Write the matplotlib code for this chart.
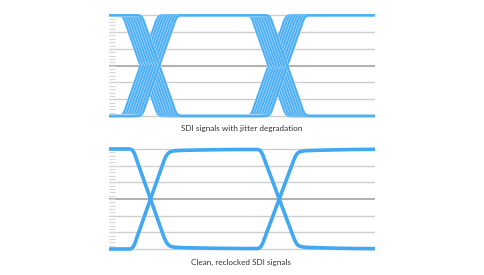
import matplotlib
matplotlib.use("Agg")
import matplotlib.pyplot as plt
import matplotlib.patheffects as pe
from matplotlib.ticker import MultipleLocator
import numpy as np

# ---- data ----
# Clean, reclocked signals (time in % of window, level in grid units 0..6)
clean_x = [0, 7.6, 8.1, 8.6, 9.1, 9.7, 10.4, 15.6, 20.8, 21.5, 22.1, 22.8, 23.6, 25, 28, 34, 42, 50,
           55.7, 56.2, 56.7, 57.2, 57.8, 58.5, 64.0, 69.5, 70.2, 70.8, 71.5, 72.3, 74, 78, 85, 92, 100]
clean_a_y = [6.0, 6.0, 5.99, 5.95, 5.86, 5.68, 5.35, 3.0, 0.65, 0.42, 0.28, 0.19, 0.14, 0.1, 0.08, 0.06, 0.04, 0.03,
             0.03, 0.04, 0.08, 0.17, 0.35, 0.65, 3.0, 5.35, 5.6, 5.74, 5.82, 5.86, 5.9, 5.92, 5.95, 5.97, 5.98]
clean_b_y = [0.0, 0.0, 0.01, 0.05, 0.14, 0.32, 0.65, 3.0, 5.35, 5.58, 5.72, 5.81, 5.86, 5.9, 5.92, 5.94, 5.96, 5.97,
             5.97, 5.96, 5.92, 5.83, 5.65, 5.35, 3.0, 0.65, 0.4, 0.26, 0.18, 0.14, 0.1, 0.08, 0.05, 0.03, 0.02]

# Jittered signals: base trace and per-trace time offsets
jit_x = [-20, 7.4, 7.9, 8.4, 8.9, 9.5, 10.2, 15.4, 20.6, 21.3, 21.9, 22.5, 23.3,
         55.5, 56.0, 56.5, 57.0, 57.6, 58.3, 63.5, 68.7, 69.4, 70.0, 70.6, 71.4, 120]
jit_a_y = [6.0, 6.0, 5.99, 5.95, 5.86, 5.68, 5.35, 3.0, 0.65, 0.32, 0.14, 0.05, 0.0,
           0.0, 0.01, 0.05, 0.14, 0.32, 0.65, 3.0, 5.35, 5.68, 5.86, 5.95, 6.0, 6.0]
jit_b_y = [0.0, 0.0, 0.01, 0.05, 0.14, 0.32, 0.65, 3.0, 5.35, 5.68, 5.86, 5.95, 6.0,
           6.0, 5.99, 5.95, 5.86, 5.68, 5.35, 3.0, 0.65, 0.32, 0.14, 0.05, 0.0, 0.0]
jit_offsets = [-3.5, -2.5, -1.5, -0.5, 0.5, 1.5, 2.5, 3.5]

grid_levels = [0, 1, 2, 3, 4, 5, 6]
captions = ["SDI signals with jitter degradation", "Clean, reclocked SDI signals"]

BLUE = "#42a8f2"
W, H = 485, 275
fig = plt.figure(figsize=(W / 100, H / 100), dpi=100)

pad = 0.15
def make_ax(x0, x1, y_top, y_bot):
    # y_top/y_bot are pixel rows of the 6 and 0 gridlines
    upp = (y_bot - y_top) / 6.0
    top = y_top - pad * upp
    bot = y_bot + pad * upp
    ax = fig.add_axes([x0 / W, 1 - bot / H, (x1 - x0) / W, (bot - top) / H])
    ax.set_xlim(0, 100)
    ax.set_ylim(-pad, 6 + pad)
    for s in ax.spines.values():
        s.set_visible(False)
    ax.set_xticks([])
    ax.set_yticks([])
    ax.yaxis.set_minor_locator(MultipleLocator(0.2))
    ax.tick_params(axis="y", which="minor", direction="in", length=4,
                   width=0.8, color="#d6d6d6", labelleft=False)
    for g in grid_levels:
        if g == 3:
            ax.axhline(g, color="#b0b0b0", lw=1.4, zorder=1)
        else:
            ax.axhline(g, color="#cfcfcf", lw=1.0, zorder=1)
    return ax

ax1 = make_ax(109, 375, 15.3, 116)
ax2 = make_ax(109, 375, 149, 249)

# jittered traces
jx = np.array(jit_x)
for off in jit_offsets:
    for ys in (jit_a_y, jit_b_y):
        ax1.plot(jx + off, ys, color="#4fb0f3", lw=1.8, zorder=3,
                 solid_capstyle="butt",
                 path_effects=[pe.Stroke(linewidth=2.4, foreground="white", alpha=0.55),
                               pe.Normal()])

# clean traces
ax2.plot(clean_x, clean_a_y, color=BLUE, lw=2.6, zorder=3, solid_capstyle="butt")
ax2.plot(clean_x, clean_b_y, color=BLUE, lw=2.6, zorder=3, solid_capstyle="butt")

fig.text(242 / W, 1 - 129 / H, captions[0], ha="center", va="center",
         fontsize=5.9, family="Lato", color="#333333")
fig.text(241 / W, 1 - 262 / H, captions[1], ha="center", va="center",
         fontsize=5.9, family="Lato", color="#333333")

fig.savefig("out.png", dpi=100, facecolor="white")
